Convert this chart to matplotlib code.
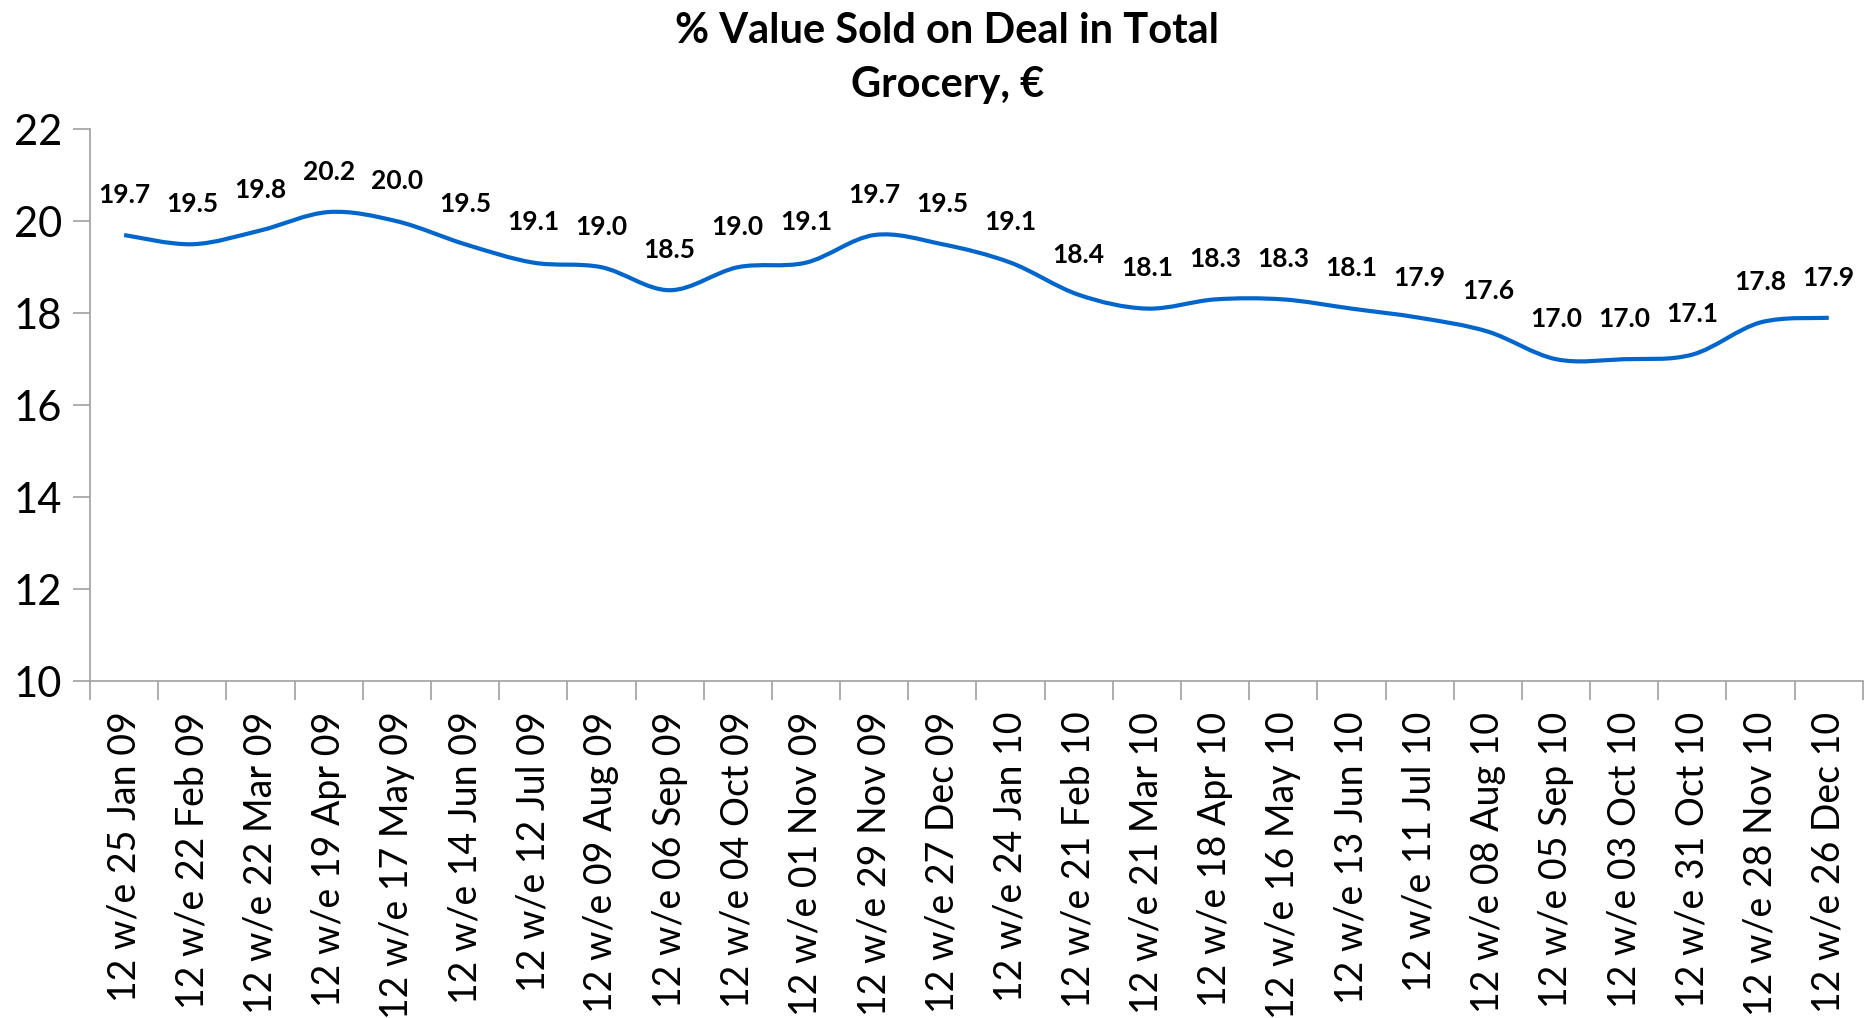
import numpy as np
import matplotlib.pyplot as plt
from matplotlib.path import Path
from matplotlib.patches import PathPatch

periods = ['12 w/e 25 Jan 09', '12 w/e 22 Feb 09', '12 w/e 22 Mar 09', '12 w/e 19 Apr 09',
           '12 w/e 17 May 09', '12 w/e 14 Jun 09', '12 w/e 12 Jul 09', '12 w/e 09 Aug 09',
           '12 w/e 06 Sep 09', '12 w/e 04 Oct 09', '12 w/e 01 Nov 09', '12 w/e 29 Nov 09',
           '12 w/e 27 Dec 09', '12 w/e 24 Jan 10', '12 w/e 21 Feb 10', '12 w/e 21 Mar 10',
           '12 w/e 18 Apr 10', '12 w/e 16 May 10', '12 w/e 13 Jun 10', '12 w/e 11 Jul 10',
           '12 w/e 08 Aug 10', '12 w/e 05 Sep 10', '12 w/e 03 Oct 10', '12 w/e 31 Oct 10',
           '12 w/e 28 Nov 10', '12 w/e 26 Dec 10']
pct_on_deal = [19.7, 19.5, 19.8, 20.2, 20.0, 19.5, 19.1, 19.0, 18.5, 19.0, 19.1, 19.7, 19.5,
               19.1, 18.4, 18.1, 18.3, 18.3, 18.1, 17.9, 17.6, 17.0, 17.0, 17.1, 17.8, 17.9]
y_ticks = [10, 12, 14, 16, 18, 20, 22]

plt.rcParams['font.family'] = ['Lato', 'DejaVu Sans']
line_color = '#0066CC'
axis_color = '#A0A0A0'

fig = plt.figure(figsize=(18.76, 10.18), dpi=100)
ax = fig.add_axes([0.048, 0.331, 0.945, 0.542])

x = np.arange(len(pct_on_deal))
y = np.array(pct_on_deal)

# smoothed line (like Excel's "smoothed line"): cubic bezier through each point
pts = np.column_stack([x, y])
verts = [pts[0]]
codes = [Path.MOVETO]
n = len(pts)
for i in range(n - 1):
    p0 = pts[max(i - 1, 0)]
    p1 = pts[i]
    p2 = pts[i + 1]
    p3 = pts[min(i + 2, n - 1)]
    c1 = p1 + (p2 - p0) / 6
    c2 = p2 - (p3 - p1) / 6
    verts += [c1, c2, p2]
    codes += [Path.CURVE4] * 3
ax.add_patch(PathPatch(Path(verts, codes), facecolor='none', edgecolor=line_color,
                       lw=3, capstyle='butt', joinstyle='round'))

for xi, yi in zip(x, y):
    ax.annotate(f'{yi:.1f}', (xi, yi), xytext=(0, 29), textcoords='offset points',
                ha='center', va='center', fontsize=19, fontweight='bold', color='black')

ax.set_xlim(-0.5, len(periods) - 0.5)
ax.set_ylim(10, 22)
ax.set_yticks(y_ticks)
ax.tick_params(axis='y', labelsize=30, length=12, width=1.2, color=axis_color, pad=8)

ax.set_xticks(x)
ax.set_xticklabels(periods, rotation=90, fontsize=27)
ax.set_xticks(np.arange(-0.5, len(periods), 1), minor=True)
ax.tick_params(axis='x', which='major', length=0, pad=22)
ax.tick_params(axis='x', which='minor', length=14, width=1.2, color=axis_color)

for side in ['top', 'right']:
    ax.spines[side].set_visible(False)
for side in ['left', 'bottom']:
    ax.spines[side].set_color(axis_color)
    ax.spines[side].set_linewidth(1.2)

fig.text(0.505, 0.988, '% Value Sold on Deal in Total\nGrocery, €', ha='center', va='top',
         fontsize=30, fontweight='bold', linespacing=1.5)

fig.savefig('out.png', dpi=100)
